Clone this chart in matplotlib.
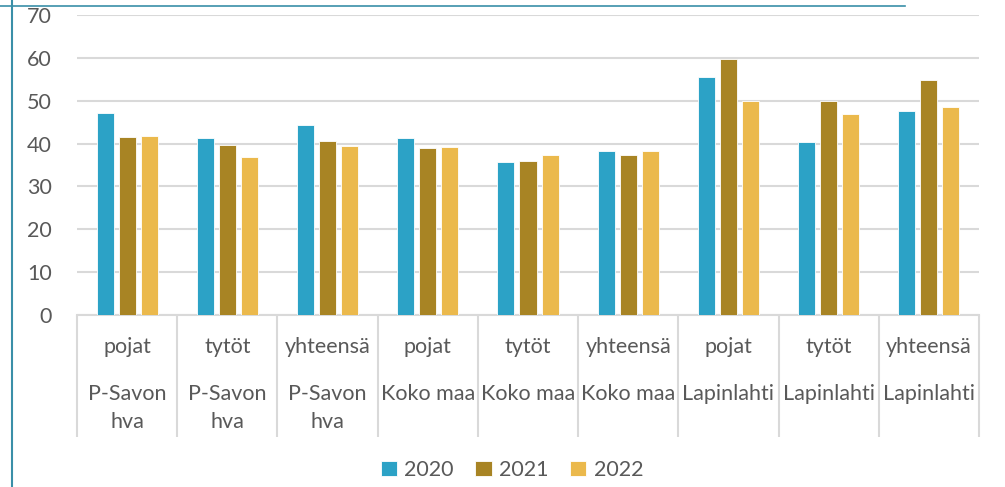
import numpy as np
import matplotlib.pyplot as plt
from matplotlib.lines import Line2D

plt.rcParams['font.family'] = ['Lato', 'DejaVu Sans']

groups = ['pojat', 'tytöt', 'yhteensä'] * 3
regions = ['P-Savon\nhva'] * 3 + ['Koko maa'] * 3 + ['Lapinlahti'] * 3
years = ['2020', '2021', '2022']
v2020 = [47.1, 41.3, 44.3, 41.3, 35.6, 38.3, 55.5, 40.3, 47.6]
v2021 = [41.5, 39.7, 40.5, 39.0, 36.0, 37.4, 59.8, 49.9, 54.8]
v2022 = [41.8, 36.8, 39.4, 39.2, 37.4, 38.3, 49.9, 47.0, 48.5]
colors = ['#2CA2C6', '#A88424', '#EBB94C']
txt = '#595959'
grid = '#D9D9D9'
fs = 15.5

fig = plt.figure(figsize=(10.05, 4.87), dpi=100)
ax = fig.add_axes([77/1005, 172/487, 902/1005, 300/487])

x = np.arange(len(groups))
w = 0.17
step = 0.22
for i, (vals, c, lab) in enumerate(zip([v2020, v2021, v2022], colors, years)):
    ax.bar(x + (i - 1) * step, vals, w, color=c, label=lab,
           edgecolor='white', linewidth=0.6, zorder=3)

ax.set_xlim(-0.5, len(groups) - 0.5)
ax.set_ylim(0, 70)
ax.set_yticks(range(0, 71, 10))
ax.yaxis.grid(True, color=grid, linewidth=1.5, zorder=0)
ax.tick_params(axis='y', length=0, pad=18, labelsize=fs, labelcolor=txt)
for s in ['top', 'right', 'left']:
    ax.spines[s].set_visible(False)
ax.spines['bottom'].set_color(grid)
ax.spines['bottom'].set_linewidth(1.5)

# category separators as long ticks
ax.set_xticks(np.arange(len(groups) + 1) - 0.5)
ax.set_xticklabels([])
ax.tick_params(axis='x', length=88, width=1.5, color=grid, direction='out')

tr = ax.get_xaxis_transform()
for xi, g, r in zip(x, groups, regions):
    ax.text(xi, -32/300, g, transform=tr, ha='center', va='center',
            fontsize=fs, color=txt)
    ax.text(xi, -69/300, r, transform=tr, ha='center', va='top',
            fontsize=fs, color=txt, linespacing=1.5)

ax.legend(loc='center', bbox_to_anchor=(512/1005, 17/487),
          bbox_transform=fig.transFigure, ncol=3, frameon=False,
          fontsize=fs, labelcolor=txt, handlelength=0.75, handleheight=0.75,
          handletextpad=0.35, columnspacing=1.0)

# frame lines of the screenshot
teal = '#3A8FA8'
fig.add_artist(Line2D([12/1005, 12/1005], [0, 1], color=teal, lw=1.5,
                      transform=fig.transFigure))
fig.add_artist(Line2D([0, 905/1005], [1 - 6/487, 1 - 6/487], color=teal,
                      lw=1.2, transform=fig.transFigure))

fig.savefig('out.png', dpi=100)
